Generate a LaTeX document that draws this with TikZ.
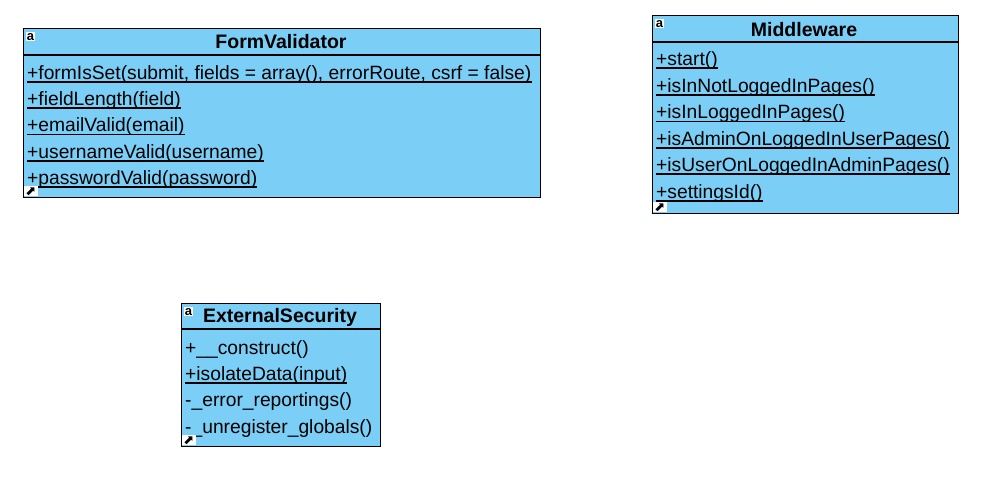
\documentclass[tikz,border=0pt]{standalone}
\usepackage{fontspec}
\setmainfont{Liberation Sans}
\newfontfamily\symbolfont{DejaVu Sans}
\usetikzlibrary{positioning}
\definecolor{classblue}{HTML}{7BCEF5}
\tikzset{
  classbox/.style={draw=black, fill=classblue, line width=1.5pt, inner sep=0pt},
  classname/.style={font=\fontsize{19.5}{20}\selectfont\bfseries, inner sep=0pt},
  member/.style={font=\fontsize{19.24}{20}\selectfont, anchor=base west, inner xsep=0pt, inner ysep=0pt, text height=13pt, text depth=2.4pt},
  iconglyph/.style={font=\fontsize{13}{13}\selectfont\bfseries, fill=white, inner xsep=1pt, inner ysep=0pt, text height=8.5pt, text depth=0.5pt},
  iconlink/.style={font=\symbolfont\fontsize{13}{13}\selectfont, fill=white, inner sep=0pt, text height=9pt, text depth=0pt, minimum width=14pt, minimum height=10pt, anchor=south west},
  rulesep/.style={line width=1.5pt},
}
\begin{document}
\begin{tikzpicture}[x=1pt, y=-1pt]
\useasboundingbox (0,0) rectangle (997,478);

\def\x{23}
\def\y{28}
\node[classbox, minimum width=517pt, minimum height=169pt, anchor=north west] (fv) at (\x + -0.5, \y + 0) {};
\node[classname] (fvname) at (\x + 258, \y + 14) {FormValidator};
\coordinate (fvl) at (\x + 0, \y + 27);
\coordinate (fvr) at (\x + 517, \y + 27);
\draw[rulesep] (fvl) -- (fvr);
\node[member] (fv1) at (\x + 4, \y + 51.6) {+formIsSet(submit, fields = array(), errorRoute, csrf = false)};
\node[member] (fv2) at (\x + 4, \y + 77.6) {+fieldLength(field)};
\node[member] (fv3) at (\x + 4, \y + 104) {+emailValid(email)};
\node[member] (fv4) at (\x + 4, \y + 130.6) {+usernameValid(username)};
\node[member] (fv5) at (\x + 4, \y + 156.6) {+passwordValid(password)};
\draw[rulesep] (fv1.south west) -- (fv1.south east);
\draw[rulesep] (fv2.south west) -- (fv2.south east);
\draw[rulesep] (fv3.south west) -- (fv3.south east);
\draw[rulesep] (fv4.south west) -- (fv4.south east);
\draw[rulesep] (fv5.south west) -- (fv5.south east);
\node[iconglyph] (fvicon) at (\x + 7.5, \y + 8.5) {a};
\node[iconlink] (fvlink) at (\x + 0.5, \y + 168.5) {⬈};

\def\x{652}
\def\y{15}
\node[classbox, minimum width=306pt, minimum height=198pt, anchor=north west] (mw) at (\x + -0.5, \y + 0) {};
\node[classname] (mwname) at (\x + 152, \y + 15) {Middleware};
\coordinate (mwl) at (\x + 0, \y + 27);
\coordinate (mwr) at (\x + 306, \y + 27);
\draw[rulesep] (mwl) -- (mwr);
\node[member] (mw1) at (\x + 4, \y + 50.6) {+start()};
\node[member] (mw2) at (\x + 4, \y + 77.6) {+isInNotLoggedInPages()};
\node[member] (mw3) at (\x + 4, \y + 104) {+isInLoggedInPages()};
\node[member] (mw4) at (\x + 4, \y + 130.6) {+isAdminOnLoggedInUserPages()};
\node[member] (mw5) at (\x + 4, \y + 156.6) {+isUserOnLoggedInAdminPages()};
\node[member] (mw6) at (\x + 4, \y + 183.6) {+settingsId()};
\draw[rulesep] (mw1.south west) -- (mw1.south east);
\draw[rulesep] (mw2.south west) -- (mw2.south east);
\draw[rulesep] (mw3.south west) -- (mw3.south east);
\draw[rulesep] (mw4.south west) -- (mw4.south east);
\draw[rulesep] (mw5.south west) -- (mw5.south east);
\draw[rulesep] (mw6.south west) -- (mw6.south east);
\node[iconglyph] (mwicon) at (\x + 7.5, \y + 8.5) {a};
\node[iconlink] (mwlink) at (\x + 0.5, \y + 197.5) {⬈};

\def\x{181}
\def\y{303}
\node[classbox, minimum width=199pt, minimum height=143pt, anchor=north west] (es) at (\x + -0.5, \y + 0) {};
\node[classname] (esname) at (\x + 99, \y + 14.5) {ExternalSecurity};
\coordinate (esl) at (\x + 0, \y + 26);
\coordinate (esr) at (\x + 199, \y + 26);
\draw[rulesep] (esl) -- (esr);
\node[member] (es1) at (\x + 4, \y + 51.6) {+\_\_construct()};
\node[member] (es2) at (\x + 4, \y + 77.6) {+isolateData(input)};
\node[member] (es3) at (\x + 4, \y + 103.6) {-\_error\_reportings()};
\node[member] (es4) at (\x + 4, \y + 130.6) {-\_unregister\_globals()};
\draw[rulesep] (es2.south west) -- (es2.south east);
\node[iconglyph] (esicon) at (\x + 7.5, \y + 8.5) {a};
\node[iconlink] (eslink) at (\x + 0.5, \y + 142.5) {⬈};

\end{tikzpicture}
\end{document}
